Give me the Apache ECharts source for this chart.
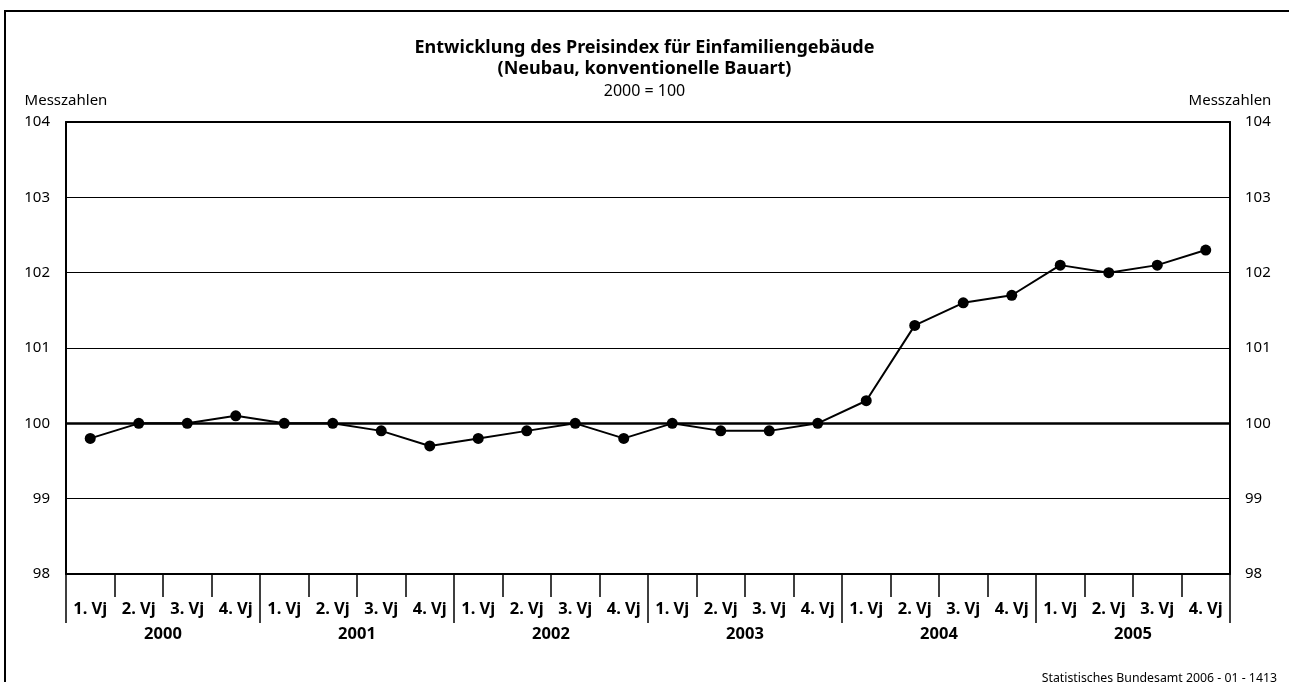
<!DOCTYPE html>
<html lang="de">
<head>
  <meta charset="UTF-8">
  <title>Preisindex Einfamiliengebäude</title>
  <script src="https://cdn.jsdelivr.net/npm/echarts@6/dist/echarts.min.js"></script>
  <style>
    html,body{margin:0;padding:0;background:#fff;}
    #chart{width:1289px;height:682px;}
  </style>
</head>
<body>
  <div id="chart"></div>
  <script>
    // Daten
    var quarters = ['1. Vj','2. Vj','3. Vj','4. Vj'];
    var years = ['2000','2001','2002','2003','2004','2005'];
    var values = [
      99.8, 100.0, 100.0, 100.1,
      100.0, 100.0, 99.9, 99.7,
      99.8, 99.9, 100.0, 99.8,
      100.0, 99.9, 99.9, 100.0,
      100.3, 101.3, 101.6, 101.7,
      102.1, 102.0, 102.1, 102.3
    ];
    var yTicks = [98, 99, 100, 101, 102, 103, 104];

    var qLabels = [];
    for (var i = 0; i < years.length; i++) {
      for (var j = 0; j < quarters.length; j++) {
        qLabels.push(quarters[j]);
      }
    }

    var font = '"Noto Sans", "Open Sans", sans-serif';
    var myChart = echarts.init(document.getElementById('chart'));
    var option = {
      animation: false,
      textStyle: {fontFamily: font, color: '#000'},
      title: [{
        text: 'Entwicklung des Preisindex für Einfamiliengebäude\n(Neubau, konventionelle Bauart)',
        left: 'center',
        top: 32,
        textStyle: {fontFamily: font, fontSize: 18, fontWeight: 'bold', color: '#000', lineHeight: 21}
      }, {
        text: '2000 = 100',
        left: 'center',
        top: 78,
        textStyle: {fontFamily: font, fontSize: 16, fontWeight: 'normal', color: '#000'}
      }, {
        text: 'Statistisches Bundesamt 2006 - 01 - 1413',
        right: 7,
        top: 667,
        textStyle: {fontFamily: font, fontSize: 12.3, fontWeight: 'normal', color: '#000'}
      }],
      graphic: [{
        type: 'rect',
        shape: {x: 5, y: 11, width: 1400, height: 800},
        style: {fill: 'none', stroke: '#000', lineWidth: 2},
        silent: true
      }],
      grid: {left: 66, right: 59, top: 122, bottom: 108},
      xAxis: [{
        type: 'category',
        data: qLabels,
        position: 'bottom',
        boundaryGap: true,
        axisLine: {show: true, lineStyle: {color: '#000', width: 2}},
        axisTick: {show: true, interval: 0, length: 23, lineStyle: {color: '#000', width: 1.5}},
        axisLabel: {interval: 0, margin: 27, fontFamily: font, fontSize: 16.5, fontWeight: 'bold', color: '#000'},
        splitLine: {show: false}
      }, {
        type: 'category',
        data: years,
        position: 'bottom',
        boundaryGap: true,
        axisLine: {show: false},
        axisTick: {show: true, interval: 0, length: 49, lineStyle: {color: '#000', width: 1.5}},
        axisLabel: {interval: 0, margin: 52, fontFamily: font, fontSize: 16.5, fontWeight: 'bold', color: '#000'},
        splitLine: {show: false}
      }, {
        type: 'category',
        data: qLabels,
        position: 'top',
        axisLine: {show: true, lineStyle: {color: '#000', width: 2}},
        axisTick: {show: false},
        axisLabel: {show: false}
      }],
      yAxis: [{
        type: 'value',
        min: yTicks[0],
        max: yTicks[yTicks.length - 1],
        interval: 1,
        position: 'left',
        name: 'Messzahlen',
        nameLocation: 'end',
        nameGap: 14,
        nameTextStyle: {fontFamily: font, fontSize: 15, color: '#000'},
        axisLine: {show: true, lineStyle: {color: '#000', width: 2}},
        axisTick: {show: false},
        axisLabel: {margin: 16, fontFamily: font, fontSize: 15, color: '#000'},
        splitLine: {show: true, lineStyle: {color: '#000', width: 1}}
      }, {
        type: 'value',
        min: yTicks[0],
        max: yTicks[yTicks.length - 1],
        interval: 1,
        position: 'right',
        name: 'Messzahlen',
        nameLocation: 'end',
        nameGap: 14,
        nameTextStyle: {fontFamily: font, fontSize: 15, color: '#000'},
        axisLine: {show: true, lineStyle: {color: '#000', width: 2}},
        axisTick: {show: false},
        axisLabel: {margin: 15, fontFamily: font, fontSize: 15, color: '#000'},
        splitLine: {show: false}
      }],
      series: [{
        type: 'line',
        data: values,
        xAxisIndex: 0,
        yAxisIndex: 0,
        symbol: 'circle',
        symbolSize: 11,
        lineStyle: {color: '#000', width: 2},
        itemStyle: {color: '#000'},
        z: 5,
        markLine: {
          silent: true,
          symbol: 'none',
          label: {show: false},
          lineStyle: {color: '#000', width: 2.5, type: 'solid'},
          data: [{yAxis: 100}],
          z: 3
        }
      }]
    };
    myChart.setOption(option);
  </script>
</body>
</html>
